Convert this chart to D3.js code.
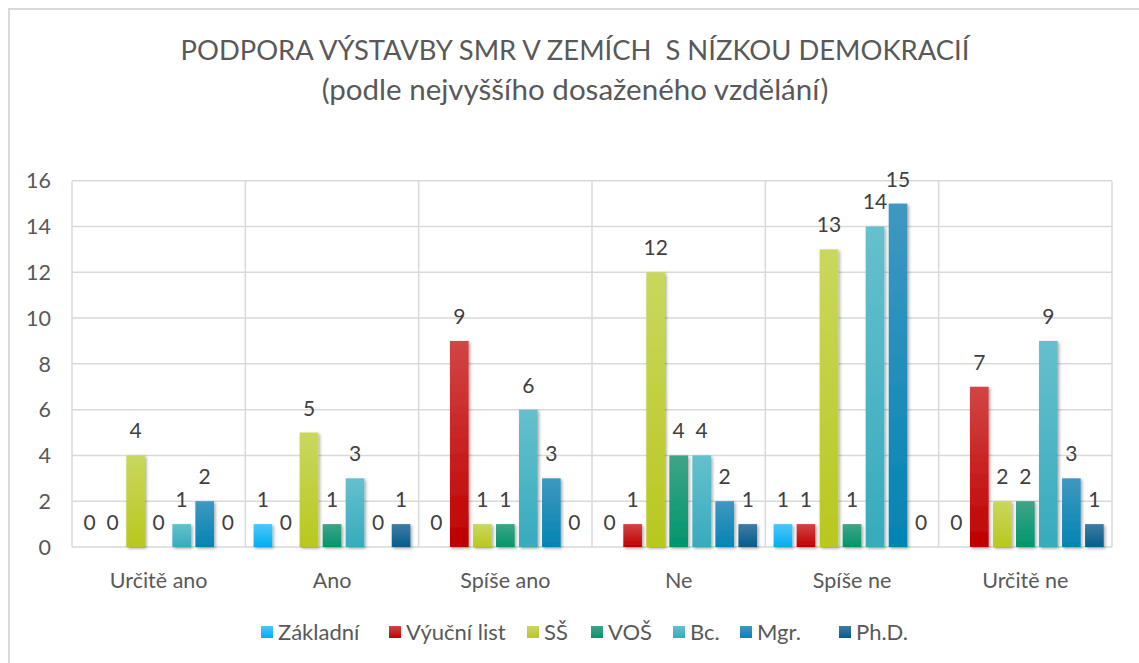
<!DOCTYPE html>
<html>
<head>
<meta charset="utf-8">
<script src="https://cdn.jsdelivr.net/npm/d3@7"></script>
<style>
  body { margin: 0; background: #fff; }
  svg { display: block; font-family: Lato, "Open Sans", sans-serif; }
</style>
</head>
<body>
<svg id="chart" width="1139" height="663"></svg>
<script>
// categories on the x axis
const categories = ['Určitě ano', 'Ano', 'Spíše ano', 'Ne', 'Spíše ne', 'Určitě ne'];
// one series per education level
const seriesNames = ['Základní', 'Výuční list', 'SŠ', 'VOŠ', 'Bc.', 'Mgr.', 'Ph.D.'];
const zakladni   = [0, 1, 0, 0, 1, 0];
const vyucniList = [0, 0, 9, 1, 1, 7];
const ss         = [4, 5, 1, 12, 13, 2];
const vos        = [0, 1, 1, 4, 1, 2];
const bc         = [1, 3, 6, 4, 14, 9];
const mgr        = [2, 0, 3, 2, 15, 3];
const phd        = [0, 1, 0, 1, 0, 1];
const yTicks = [0, 2, 4, 6, 8, 10, 12, 14, 16];

const seriesValues = [zakladni, vyucniList, ss, vos, bc, mgr, phd];
// [top, bottom] gradient stops
const seriesColors = [
  ['#4cc6fa', '#00aef0'],
  ['#d24545', '#bf0000'],
  ['#cad75e', '#b8c81e'],
  ['#3fa488', '#00966c'],
  ['#66c0cd', '#36abbd'],
  ['#3f98c0', '#0384b3'],
  ['#3f7ba4', '#055d8c']
];

const svg = d3.select('#chart');
const width = 1139, height = 663;
const plot = { left: 72, right: 1112, top: 180.7, bottom: 547 };

const defs = svg.append('defs');
seriesColors.forEach(function(c, i) {
  const g = defs.append('linearGradient')
    .attr('id', 'grad' + i)
    .attr('x1', 0).attr('y1', 0).attr('x2', 0).attr('y2', 1);
  g.append('stop').attr('offset', '0%').attr('stop-color', c[0]);
  g.append('stop').attr('offset', '100%').attr('stop-color', c[1]);
});
const shadow = defs.append('filter').attr('id', 'shadow')
  .attr('x', '-30%').attr('y', '-10%').attr('width', '160%').attr('height', '130%');
shadow.append('feDropShadow')
  .attr('dx', 1.5).attr('dy', 1.5).attr('stdDeviation', 1.6)
  .attr('flood-color', '#000').attr('flood-opacity', 0.35);

// chart area border
svg.append('path')
  .attr('d', `M9,${height} V9 H${width}`)
  .attr('fill', 'none')
  .attr('stroke', '#d9d9d9')
  .attr('stroke-width', 2);

// title
const title = svg.append('text')
  .attr('text-anchor', 'middle')
  .attr('fill', '#595959');
title.append('tspan').attr('x', 575).attr('y', 60)
  .attr('font-size', 27.4)
  .text('PODPORA VÝSTAVBY SMR V ZEMÍCH\u00a0 S NÍZKOU DEMOKRACIÍ');
title.append('tspan').attr('x', 575).attr('y', 100)
  .attr('font-size', 29.5)
  .text('(podle nejvyššího dosaženého vzdělání)');

const x0 = d3.scaleBand()
  .domain(categories)
  .range([plot.left, plot.right])
  .padding(0);
const x1 = d3.scaleBand()
  .domain(seriesNames)
  .range([0, x0.bandwidth()])
  .paddingInner(0.19)
  .paddingOuter(0.36);
const y = d3.scaleLinear()
  .domain([0, 16])
  .range([plot.bottom, plot.top]);

// horizontal gridlines
svg.append('g')
  .selectAll('line')
  .data(yTicks)
  .join('line')
  .attr('x1', plot.left).attr('x2', plot.right)
  .attr('y1', d => y(d)).attr('y2', d => y(d))
  .attr('stroke', '#d9d9d9')
  .attr('stroke-width', 1.5);

// vertical gridlines at category boundaries
const bounds = categories.map(c => x0(c)).concat([plot.right]);
svg.append('g')
  .selectAll('line')
  .data(bounds)
  .join('line')
  .attr('x1', d => d).attr('x2', d => d)
  .attr('y1', plot.top).attr('y2', plot.bottom)
  .attr('stroke', '#d9d9d9')
  .attr('stroke-width', 1.5);

// y tick labels
svg.append('g')
  .selectAll('text')
  .data(yTicks)
  .join('text')
  .attr('x', 51)
  .attr('y', d => y(d))
  .attr('dy', '0.36em')
  .attr('text-anchor', 'end')
  .attr('fill', '#595959')
  .attr('font-size', 21.5)
  .text(d => d);

// category labels
svg.append('g')
  .selectAll('text')
  .data(categories)
  .join('text')
  .attr('x', d => x0(d) + x0.bandwidth() / 2)
  .attr('y', 588)
  .attr('text-anchor', 'middle')
  .attr('fill', '#595959')
  .attr('font-size', 21.5)
  .text(d => d);

// bars
const rows = [];
categories.forEach(function(c, ci) {
  seriesNames.forEach(function(s, si) {
    rows.push({ cat: c, series: s, si: si, value: seriesValues[si][ci] });
  });
});

svg.append('g')
  .selectAll('rect')
  .data(rows.filter(d => d.value > 0))
  .join('rect')
  .attr('x', d => x0(d.cat) + x1(d.series))
  .attr('y', d => y(d.value))
  .attr('width', x1.bandwidth())
  .attr('height', d => y(0) - y(d.value))
  .attr('fill', d => `url(#grad${d.si})`)
  .attr('filter', 'url(#shadow)');

// value labels
svg.append('g')
  .selectAll('text')
  .data(rows)
  .join('text')
  .attr('x', d => x0(d.cat) + x1(d.series) + x1.bandwidth() / 2)
  .attr('y', d => y(d.value) - 17)
  .attr('text-anchor', 'middle')
  .attr('fill', '#404040')
  .attr('font-size', 21)
  .text(d => d.value);

// legend
const legendX = [261, 389, 527, 591, 673, 740, 839];
const legend = svg.append('g');
const items = legend.selectAll('g')
  .data(seriesNames)
  .join('g')
  .attr('transform', (d, i) => `translate(${legendX[i]}, 632)`);
items.append('rect')
  .attr('x', 0).attr('y', -6)
  .attr('width', 12).attr('height', 12)
  .attr('fill', (d, i) => `url(#grad${i})`);
items.append('text')
  .attr('x', 17)
  .attr('dy', '0.36em')
  .attr('fill', '#595959')
  .attr('font-size', 22)
  .text(d => d);
</script>
</body>
</html>
